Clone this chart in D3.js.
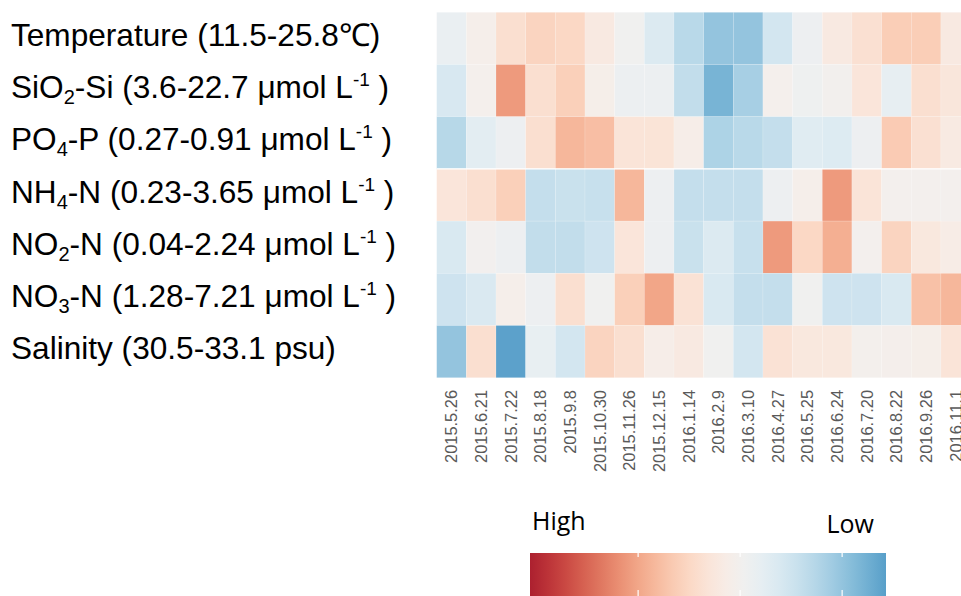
<!DOCTYPE html>
<html>
<head>
<meta charset="utf-8">
<script src="https://cdn.jsdelivr.net/npm/d3@7"></script>
<style>
  html, body { margin: 0; padding: 0; background: #fff; }
  svg { display: block; }
</style>
</head>
<body>
<svg id="chart" width="961" height="596"></svg>
<script>
// Sampling dates (columns)
const dates = ["2015.5.26","2015.6.21","2015.7.22","2015.8.18","2015.9.8","2015.10.30",
  "2015.11.26","2015.12.15","2016.1.14","2016.2.9","2016.3.10","2016.4.27",
  "2016.5.25","2016.6.24","2016.7.20","2016.8.22","2016.9.26","2016.11.1"];

// Environmental variables (rows); _{..} is a subscript, ^{..} a superscript
const variables = [
  "Temperature (11.5-25.8℃)",
  "SiO_{2}-Si (3.6-22.7 μmol L^{-1} )",
  "PO_{4}-P (0.27-0.91 μmol L^{-1} )",
  "NH_{4}-N (0.23-3.65 μmol L^{-1} )",
  "NO_{2}-N (0.04-2.24 μmol L^{-1} )",
  "NO_{3}-N (1.28-7.21 μmol L^{-1} )",
  "Salinity (30.5-33.1 psu)"
];

// Row-standardised values (z-scores) for each variable across the dates
const temperature = [-0.15, 0.08, 0.40, 0.55, 0.50, 0.22, -0.03, -0.35, -0.70, -1.00, -1.00, -0.45, -0.10, 0.22, 0.38, 0.62, 0.62, 0.22];
const silicate    = [-0.40, 0.05, 1.10, 0.40, 0.60, 0.10, -0.12, -0.12, -0.62, -1.20, -0.85, 0.05, -0.08, 0.02, 0.30, -0.20, 0.40, 0.28];
const phosphate   = [-0.72, -0.25, -0.10, 0.40, 0.85, 0.78, 0.32, 0.33, 0.12, -0.80, -0.70, -0.60, -0.30, -0.33, -0.10, 0.65, 0.38, 0.20];
const ammonium    = [0.30, 0.40, 0.60, -0.60, -0.55, -0.57, 0.85, -0.10, -0.60, -0.60, -0.60, -0.10, 0.08, 1.10, 0.32, 0.03, 0.03, 0.03];
const nitrite     = [-0.38, 0.00, -0.10, -0.62, -0.62, -0.50, 0.30, -0.10, -0.55, -0.35, -0.57, 1.10, 0.50, 0.92, 0.03, 0.55, 0.25, 0.15];
const nitrate     = [-0.50, -0.37, 0.08, -0.10, 0.40, -0.03, 0.60, 1.00, 0.35, -0.38, -0.60, -0.60, -0.03, -0.50, -0.50, -0.38, 0.75, 0.85];
const salinity    = [-1.00, 0.40, -1.40, -0.18, -0.45, 0.55, 0.40, 0.12, 0.22, -0.03, -0.45, 0.35, 0.25, 0.25, 0.04, 0.06, 0.10, 0.32];

const series = [temperature, silicate, phosphate, ammonium, nitrite, nitrate, salinity];

// Colour bar
const legendRange = [2.06, -1.43];   // High (left) to Low (right)
const legendTicks = [1, 0, -1];
const legendText = ["High", "Low"];

const svg = d3.select("#chart");

const x = d3.scaleBand().domain(dates).range([436.7, 436.7 + 29.66 * dates.length]).padding(0);
const y = d3.scaleBand().domain(d3.range(variables.length)).range([12.3, 377.7]).padding(0);

// Diverging colour: positive z toward red, negative toward blue
const tOf = d3.scaleLinear().domain([0, 1]).range([0.5, 0.306]);
const color = v => d3.interpolateRdBu(tOf(v));

const cells = [];
series.forEach((vals, r) => vals.forEach((v, c) => cells.push({ r, c, v })));

svg.append("g")
  .selectAll("rect")
  .data(cells)
  .join("rect")
  .attr("x", d => x(dates[d.c]))
  .attr("y", d => y(d.r))
  .attr("width", x.bandwidth())
  .attr("height", y.bandwidth())
  .attr("fill", d => color(d.v))
  .attr("stroke", "rgba(255,255,255,0.25)")
  .attr("stroke-width", 0.6);

// Thin separator between the phosphate and ammonium rows
svg.append("line")
  .attr("x1", x.range()[0]).attr("x2", x.range()[1])
  .attr("y1", y(3)).attr("y2", y(3))
  .attr("stroke", "#fff").attr("stroke-width", 1.4);

// Date labels, rotated
svg.append("g")
  .selectAll("text")
  .data(dates)
  .join("text")
  .attr("transform", d => `translate(${x(d) + x.bandwidth() / 2},390) rotate(-90)`)
  .attr("text-anchor", "end")
  .attr("dy", "0.36em")
  .attr("font-family", "Liberation Sans, Arial, sans-serif")
  .attr("font-size", 16.4)
  .attr("fill", "#5a5a5a")
  .text(d => d);

// Variable labels with sub/superscripts
function parseLabel(s) {
  const parts = [];
  const re = /(_\{([^}]*)\})|(\^\{([^}]*)\})|([^_^]+)/g;
  let m;
  while ((m = re.exec(s)) !== null) {
    if (m[2] !== undefined) parts.push({ t: m[2], k: "sub" });
    else if (m[4] !== undefined) parts.push({ t: m[4], k: "sup" });
    else parts.push({ t: m[5], k: "n" });
  }
  return parts;
}

const labelG = svg.append("g")
  .attr("font-family", "Liberation Sans, Arial, sans-serif")
  .attr("font-size", 31.6)
  .attr("fill", "#000");

variables.forEach((lab, i) => {
  const t = labelG.append("text")
    .attr("x", 11)
    .attr("y", y(i) + y.bandwidth() / 2 + 7.5);
  parseLabel(lab).forEach(p => {
    const ts = t.append("tspan").text(p.t);
    if (p.k === "sub") ts.attr("font-size", 20).attr("baseline-shift", "-6");
    if (p.k === "sup") ts.attr("font-size", 19).attr("baseline-shift", "12");
  });
});

// Colour legend
const lx = d3.scaleLinear().domain(legendRange).range([530, 886]);
const grad = svg.append("defs").append("linearGradient")
  .attr("id", "bar").attr("x1", "0%").attr("x2", "100%");
d3.range(0, 1.0001, 0.05).forEach(f => {
  grad.append("stop")
    .attr("offset", `${f * 100}%`)
    .attr("stop-color", color(lx.invert(530 + f * 356)));
});
svg.append("rect")
  .attr("x", lx.range()[0]).attr("y", 553)
  .attr("width", lx.range()[1] - lx.range()[0]).attr("height", 45)
  .attr("fill", "url(#bar)");

const tickG = svg.append("g").attr("stroke", "#fff").attr("stroke-width", 1.2);
legendTicks.forEach(v => {
  tickG.append("line").attr("x1", lx(v)).attr("x2", lx(v)).attr("y1", 553).attr("y2", 557);
  tickG.append("line").attr("x1", lx(v)).attr("x2", lx(v)).attr("y1", 590).attr("y2", 598);
});

svg.append("text")
  .attr("x", 532).attr("y", 530)
  .attr("font-family", "Open Sans, sans-serif").attr("font-size", 25)
  .attr("fill", "#000").text(legendText[0]);
svg.append("text")
  .attr("x", 874).attr("y", 533).attr("text-anchor", "end")
  .attr("font-family", "Open Sans, sans-serif").attr("font-size", 25)
  .attr("fill", "#000").text(legendText[1]);
</script>
</body>
</html>
